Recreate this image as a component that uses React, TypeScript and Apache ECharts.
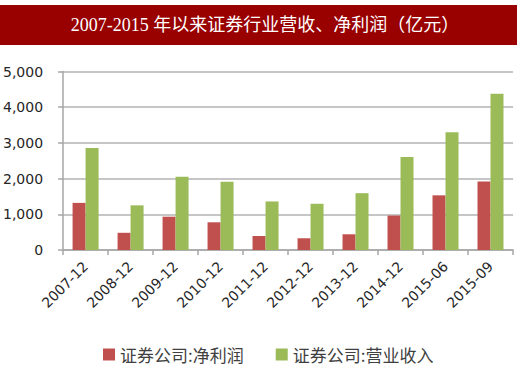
import React, { useEffect, useRef } from "react";
import * as echarts from "echarts";

const categories = ["2007-12", "2008-12", "2009-12", "2010-12", "2011-12", "2012-12", "2013-12", "2014-12", "2015-06", "2015-09"];
const netProfit = [1320, 482, 933, 776, 394, 329, 440, 965, 1531, 1920];
const revenue = [2858, 1251, 2050, 1911, 1360, 1295, 1592, 2603, 3300, 4375];
const seriesNames = ["证券公司:净利润", "证券公司:营业收入"];
const titleText = "2007-2015 年以来证券行业营收、净利润（亿元）";

export default function App() {
  const ref = useRef<HTMLDivElement>(null);
  useEffect(() => {
    document.body.style.margin = "0";
    const chart = echarts.init(ref.current!, null, { renderer: "svg" });
    chart.setOption({
      animation: false,
      backgroundColor: "#ffffff",
      graphic: [
        { type: "rect", left: 0, top: 5, shape: { width: 517, height: 40 }, style: { fill: "#990000" } },
        {
          type: "text",
          x: 265,
          y: 25,
          style: {
            text: titleText,
            fill: "#ffffff",
            font: '18px "Liberation Serif", "Noto Sans CJK SC", serif',
            align: "center",
            verticalAlign: "middle",
          },
        },
      ],
      legend: {
        left: 98,
        top: 341,
        itemWidth: 12,
        itemHeight: 12,
        itemGap: 32,
        icon: "rect",
        textStyle: { fontSize: 17, color: "#404040", fontFamily: '"Noto Sans CJK SC", sans-serif' },
        data: seriesNames,
      },
      grid: { left: 63, right: 7, top: 71.5, bottom: 123, containLabel: false },
      xAxis: {
        type: "category",
        data: categories,
        axisLine: { lineStyle: { color: "#a6a6a6", width: 1.5 } },
        axisTick: { show: true, length: 5, lineStyle: { color: "#a6a6a6", width: 1.5 } },
        axisLabel: {
          rotate: 45,
          margin: 14,
          fontSize: 14,
          color: "#262626",
          fontFamily: '"DejaVu Sans", sans-serif',
        },
      },
      yAxis: {
        type: "value",
        min: 0,
        max: 5000,
        interval: 1000,
        axisLine: { show: true, lineStyle: { color: "#a6a6a6", width: 1.5 } },
        axisTick: { show: true, length: 5, lineStyle: { color: "#a6a6a6", width: 1.5 } },
        splitLine: { lineStyle: { color: "#b3b3b3", width: 1.5 } },
        axisLabel: {
          margin: 20,
          fontSize: 14,
          color: "#262626",
          fontFamily: '"DejaVu Sans", sans-serif',
          formatter: (v: number) => v.toLocaleString("en-US"),
        },
      },
      series: [
        { name: seriesNames[0], type: "bar", data: netProfit, barWidth: 13, barGap: "0%", itemStyle: { color: "#C0504D" } },
        { name: seriesNames[1], type: "bar", data: revenue, barWidth: 13, barGap: "0%", itemStyle: { color: "#9BBB59" } },
      ],
    });
    return () => chart.dispose();
  }, []);
  return <div ref={ref} style={{ width: 520, height: 373 }} />;
}
